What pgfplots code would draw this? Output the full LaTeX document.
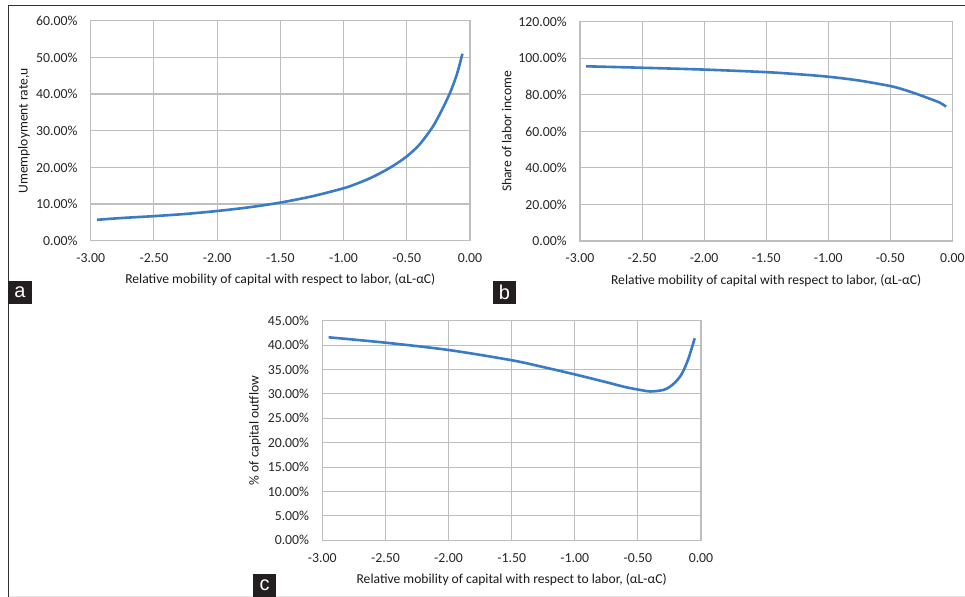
\documentclass[border=0pt]{standalone}
\usepackage{fontspec}
\setmainfont{Carlito}
\newfontfamily\boxfont{Liberation Sans}
\usepackage{pgfplots}
\pgfplotsset{compat=1.18}
\definecolor{lineblue}{HTML}{3A7BC8}
\definecolor{gridgray}{HTML}{BEBEBE}
\definecolor{boxblack}{HTML}{231F20}
\pgfplotsset{
 curve/.style={color=lineblue,line width=2.6bp,smooth,no markers},
 panel/.style={
  scale only axis,
  xmin=-3,xmax=0,
  xtick={-3,-2.5,-2,-1.5,-1,-0.5,0},
  scaled ticks=false,
  grid=major,
  major grid style={gridgray,line width=1.1bp},
  axis line style={gridgray,line width=1.1bp},
  tick style={draw=none},
  /pgf/number format/assume math mode=true,
  /pgf/number format/fixed,
  /pgf/number format/fixed zerofill,
  /pgf/number format/precision=2,
  yticklabel={\pgfmathprintnumber{\tick}\%},
  tick label style={font=\fontsize{13.8bp}{15bp}\selectfont, text=black!85},
  xticklabel style={anchor=center,yshift=-17.3bp},
  yticklabel style={anchor=east,inner sep=0pt,xshift=-13bp},
  label style={font=\fontsize{13.6bp}{15bp}\selectfont, text=black!90},
  xlabel={Relative mobility of capital with respect to labor, (αL-αC)},
  xlabel style={at={(axis description cs:0.5,-0.179)},anchor=center},
 }
}
\begin{document}
\begin{tikzpicture}
\path[use as bounding box] (0,0) rectangle (965bp,-597bp);
\draw[black!10,line width=0.8bp] (8bp,-596bp) -- (965bp,-596bp);
\draw[black!80,line width=1bp] (8bp,-597bp) -- (8bp,-5bp) -- (965bp,-5bp);

% panel a
\begin{axis}[panel, at={(90.7bp,-240.7bp)}, anchor=south west,
  width=379.3bp, height=220bp, ymin=0, ymax=60, ytick={0,10,...,60},
  ylabel={Umemployment rate,u},
  ylabel style={at={(axis description cs:-0.176,0.5)},anchor=center}]
\addplot[curve] coordinates {
(-2.95,5.7) (-2.75,6.2) (-2.5,6.7) (-2.25,7.3) (-2.0,8.1) (-1.75,9.1)
(-1.5,10.4) (-1.25,12.1) (-1.0,14.3) (-0.9,15.5) (-0.8,16.9) (-0.7,18.6)
(-0.6,20.6) (-0.5,23.0) (-0.4,26.2) (-0.3,30.8) (-0.25,33.8) (-0.2,37.2)
(-0.15,41.0) (-0.1,45.8) (-0.06,51.0)};
\end{axis}

% panel b
\begin{axis}[panel, at={(580bp,-241bp)}, anchor=south west,
  width=372.3bp, height=219.3bp, ymin=0, ymax=120, ytick={0,20,...,120},
  ylabel={Share of labor income},
  ylabel style={at={(axis description cs:-0.197,0.5)},anchor=center}]
\addplot[curve] coordinates {
(-2.95,95.6) (-2.5,94.8) (-2.0,93.8) (-1.5,92.4) (-1.25,91.3) (-1.0,89.9)
(-0.75,87.8) (-0.5,84.8) (-0.4,83.0) (-0.3,80.8) (-0.2,78.3) (-0.1,75.7)
(-0.05,73.5)};
\end{axis}

% panel c
\begin{axis}[panel, at={(322.3bp,-540.3bp)}, anchor=south west,
  width=378.7bp, height=219.6bp, ymin=0, ymax=45, ytick={0,5,...,45},
  ylabel={\% of capital outflow},
  ylabel style={at={(axis description cs:-0.178,0.5)},anchor=center}]
\addplot[curve] coordinates {
(-2.95,41.6) (-2.5,40.5) (-2.0,39.0) (-1.5,36.9) (-1.25,35.5) (-1.0,34.0)
(-0.75,32.4) (-0.6,31.4) (-0.5,30.9) (-0.4,30.5) (-0.3,30.8) (-0.25,31.4)
(-0.2,32.5) (-0.15,34.2) (-0.1,37.2) (-0.05,41.4)};
\end{axis}

% panel letters
\fill[boxblack] (8bp,-281bp) rectangle (32bp,-304bp);
\node[text=white,font=\boxfont\fontsize{20bp}{20bp}\selectfont] at (20bp,-292.5bp) {a};
\fill[boxblack] (493bp,-281bp) rectangle (516bp,-304bp);
\node[text=white,font=\boxfont\fontsize{20bp}{20bp}\selectfont] at (504.5bp,-292.5bp) {b};
\fill[boxblack] (253bp,-574bp) rectangle (276bp,-597bp);
\node[text=white,font=\boxfont\fontsize{20bp}{20bp}\selectfont] at (264.5bp,-585.5bp) {c};
\end{tikzpicture}
\end{document}
